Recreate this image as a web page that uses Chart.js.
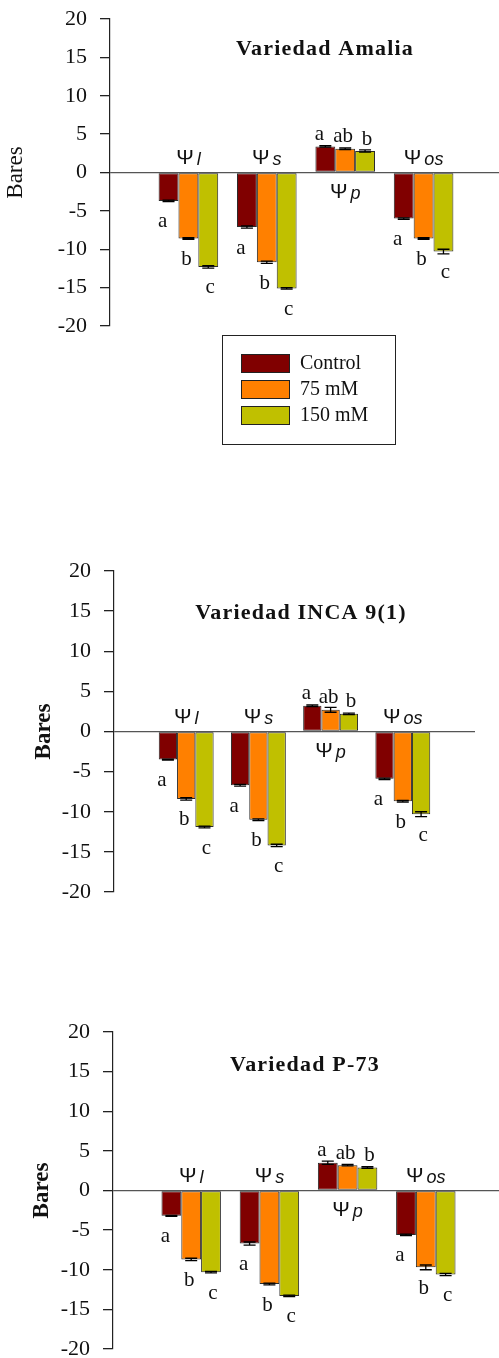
<!DOCTYPE html>
<html>
<head>
<meta charset="utf-8">
<script src="https://cdn.jsdelivr.net/npm/chart.js@4.4.0/dist/chart.umd.min.js"></script>
<style>
  html, body { margin: 0; padding: 0; background: #fff; overflow: hidden; width: 499px; height: 1358px; }
  canvas { position: absolute; left: 0; }
</style>
</head>
<body>
<canvas id="c1" width="510" height="460" style="top:0"></canvas>
<canvas id="c2" width="510" height="460" style="top:460px"></canvas>
<canvas id="c3" width="510" height="450" style="top:920px"></canvas>
<script>
// potenciales hidricos (subindices) y tratamientos
const groupNames = ["l", "s", "p", "os"];
const treatments = ["Control", "75 mM", "150 mM"];
const barColors = ["#800000", "#ff8000", "#c0c000"];

// letras de significacion (iguales en las tres variedades)
const lettersControl = ["a", "a", "a", "a"];
const letters75 = ["b", "b", "ab", "b"];
const letters150 = ["c", "c", "b", "c"];

// Variedad Amalia
const amaliaControl = [-3.7, -7.1, 3.4, -6.0];
const amalia75 = [-8.6, -11.7, 3.1, -8.6];
const amalia150 = [-12.3, -15.1, 2.8, -10.3];
const amaliaErrControl = [0.1, 0.15, 0.1, 0.1];
const amaliaErr75 = [0.1, 0.15, 0.1, 0.1];
const amaliaErr150 = [0.15, 0.1, 0.15, 0.3];

// Variedad INCA 9(1)
const incaControl = [-3.5, -6.7, 3.2, -5.9];
const inca75 = [-8.4, -11.0, 2.7, -8.7];
const inca150 = [-11.9, -14.2, 2.2, -10.3];
const incaErrControl = [0.05, 0.1, 0.1, 0.1];
const incaErr75 = [0.15, 0.1, 0.3, 0.1];
const incaErr150 = [0.1, 0.15, 0.1, 0.3];

// Variedad P-73
const p73Control = [-3.2, -6.7, 3.5, -5.6];
const p7375 = [-8.7, -11.8, 3.2, -9.7];
const p73150 = [-10.3, -13.3, 2.9, -10.6];
const p73ErrControl = [0.05, 0.2, 0.2, 0.1];
const p73Err75 = [0.15, 0.1, 0.1, 0.3];
const p73Err150 = [0.1, 0.1, 0.1, 0.15];

const yMin = -20, yMax = 20, yStep = 5;

// empty slot at both ends so groups sit at 1..4
const pad = (a) => [null, ...a, null];
const xLabels = ["", ...groupNames, ""];

const decor = {
  id: "decor",
  afterDatasetsDraw(chart, args, o) {
    const ctx = chart.ctx;
    const ys = chart.scales.y;
    const zero = ys.getPixelForValue(0);
    const dx = [-6, -2, 2];
    ctx.save();
    chart.data.datasets.forEach((ds, di) => {
      const meta = chart.getDatasetMeta(di);
      ds.data.forEach((v, i) => {
        if (v === null) return;
        const bar = meta.data[i];
        const e = ds.err[i - 1];
        const y1 = ys.getPixelForValue(v - e);
        const y2 = ys.getPixelForValue(v + e);
        ctx.strokeStyle = "#000";
        ctx.lineWidth = 1.3;
        ctx.beginPath();
        ctx.moveTo(bar.x, y1); ctx.lineTo(bar.x, y2);
        ctx.moveTo(bar.x - 6, y1); ctx.lineTo(bar.x + 6, y1);
        ctx.moveTo(bar.x - 6, y2); ctx.lineTo(bar.x + 6, y2);
        ctx.stroke();
        // letra
        ctx.fillStyle = "#111";
        ctx.font = "21px 'Liberation Serif'";
        ctx.textAlign = "center";
        ctx.textBaseline = "middle";
        const ly = v < 0 ? bar.y + 21 : bar.y - 12;
        ctx.fillText(ds.letters[i - 1], bar.x + dx[di], ly);
      });
    });
    // etiquetas psi
    groupNames.forEach((g, k) => {
      const i = k + 1;
      const cx = chart.scales.x.getPixelForValue(i);
      const below = chart.data.datasets[0].data[i] > 0;
      const base = below ? zero + 25 : zero - 9;
      ctx.font = "21px 'Liberation Sans'";
      const w1 = ctx.measureText("\u03A8").width;
      ctx.font = "italic 18px 'Liberation Sans'";
      const w2 = ctx.measureText(g).width;
      const start = cx - (w1 + 3 + w2) / 2;
      ctx.fillStyle = "#111";
      ctx.textAlign = "left";
      ctx.textBaseline = "alphabetic";
      ctx.font = "21px 'Liberation Sans'";
      ctx.fillText("\u03A8", start, base);
      ctx.font = "italic 18px 'Liberation Sans'";
      ctx.fillText(g, start + w1 + 3, base + 1);
    });
    // titulo
    ctx.font = "bold 22px 'Liberation Serif'";
    ctx.letterSpacing = "1.2px";
    ctx.textAlign = "center";
    ctx.textBaseline = "middle";
    ctx.fillStyle = "#111";
    ctx.fillText(o.title, o.titleX, o.titleY);
    ctx.letterSpacing = "0px";
    // leyenda
    if (o.legend) {
      const ca = chart.chartArea;
      const bx = ca.left + 112, by = ca.bottom + 9;
      ctx.strokeStyle = "#222";
      ctx.lineWidth = 1;
      ctx.strokeRect(bx + 0.5, by + 0.5, 173, 109);
      chart.data.datasets.forEach((ds, di) => {
        const ry = by + 19 + di * 26;
        ctx.fillStyle = ds.backgroundColor;
        ctx.fillRect(bx + 19, ry, 48, 18);
        ctx.strokeStyle = "#222";
        ctx.strokeRect(bx + 19.5, ry + 0.5, 48, 18);
        ctx.fillStyle = "#111";
        ctx.font = "20px 'Liberation Serif'";
        ctx.textAlign = "left";
        ctx.textBaseline = "middle";
        ctx.fillText(ds.label, bx + 78, ry + 10);
      });
    }
    ctx.restore();
  },
};

function makeChart(id, series, errs, opts) {
  const letters = [lettersControl, letters75, letters150];
  const datasets = series.map((s, k) => ({
    label: treatments[k],
    data: pad(s),
    err: errs[k],
    letters: letters[k],
    backgroundColor: barColors[k],
    borderColor: "#2a2a2a",
    borderWidth: 1,
    borderSkipped: false,
    categoryPercentage: 0.76,
    barPercentage: 1.0,
  }));
  return new Chart(document.getElementById(id), {
    type: "bar",
    data: { labels: xLabels, datasets },
    plugins: [decor],
    options: {
      responsive: false,
      animation: false,
      layout: { padding: opts.padding },
      plugins: {
        legend: { display: false },
        tooltip: { enabled: false },
        decor: { title: opts.title, titleX: opts.titleX, titleY: opts.titleY, legend: opts.legend },
      },
      scales: {
        x: { display: false, offset: false, grid: { display: false } },
        y: {
          min: yMin,
          max: yMax,
          afterFit(axis) {
            axis.width = opts.axisWidth;
            axis.paddingTop = 8;
            axis.paddingBottom = 8;
          },
          ticks: {
            stepSize: yStep,
            padding: 13,
            color: "#111",
            font: { family: "'Liberation Serif'", size: 22 },
          },
          grid: {
            color: (c) => (c.tick && c.tick.value === 0 ? "#555" : "rgba(0,0,0,0)"),
            lineWidth: 1.3,
            tickColor: "#222",
            tickLength: 10,
          },
          border: { display: true, color: "#222", width: 1.2 },
          title: {
            display: true,
            text: "Bares",
            color: "#111",
            padding: { top: 2, bottom: 4 },
            font: { family: "'Liberation Serif'", size: opts.yTitleSize, weight: opts.yTitleWeight },
          },
        },
      },
    },
  });
}

makeChart("c1", [amaliaControl, amalia75, amalia150], [amaliaErrControl, amaliaErr75, amaliaErr150], {
  padding: { top: 19, bottom: 134, left: 0, right: 8 },
  axisWidth: 110,
  title: "Variedad Amalia", titleX: 325, titleY: 49,
  yTitleSize: 23, yTitleWeight: "normal",
  legend: true,
});

makeChart("c2", [incaControl, inca75, inca150], [incaErrControl, incaErr75, incaErr150], {
  padding: { top: 111, bottom: 28, left: 28, right: 35 },
  axisWidth: 86,
  title: "Variedad INCA 9(1)", titleX: 301, titleY: 153,
  yTitleSize: 23, yTitleWeight: "bold",
  legend: false,
});

makeChart("c3", [p73Control, p7375, p73150], [p73ErrControl, p73Err75, p73Err150], {
  padding: { top: 112, bottom: 21, left: 26, right: 6 },
  axisWidth: 87,
  title: "Variedad P-73", titleX: 305, titleY: 145,
  yTitleSize: 23, yTitleWeight: "bold",
  legend: false,
});
</script>
</body>
</html>
